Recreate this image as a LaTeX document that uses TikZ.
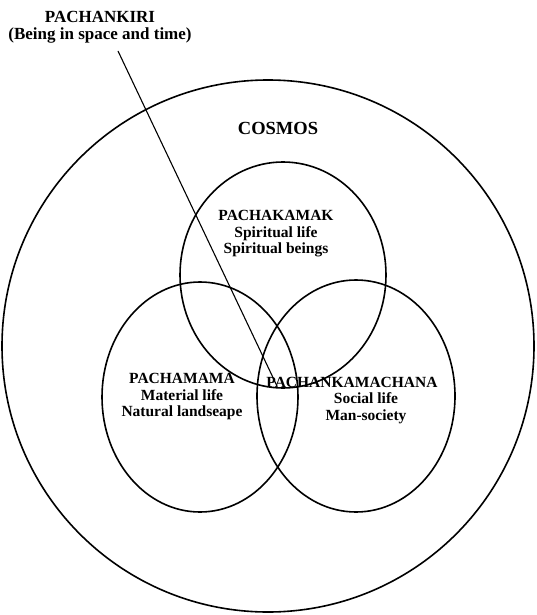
\documentclass[tikz,border=0pt]{standalone}
\usepackage{fontspec}
\setmainfont{Liberation Serif}
\begin{document}
\begin{tikzpicture}[x=1pt,y=-1pt,
  ring/.style={draw=black,line width=1.6pt},
  lbl/.style={font=\bfseries\fontsize{15.5}{16.5}\selectfont,align=center,inner sep=0pt},
  biglbl/.style={font=\bfseries\fontsize{17}{17}\selectfont,align=center,inner sep=0pt},
]
\useasboundingbox (0,0) rectangle (536,615);
\draw[ring] (268,346) circle[radius=266];
\draw[ring] (283,275) ellipse[x radius=103,y radius=113];
\draw[ring] (200,397) ellipse[x radius=98,y radius=115];
\draw[ring] (356,396) ellipse[x radius=99,y radius=116];
\node[biglbl] (kiri) at (100,27) {PACHANKIRI\\(Being in space and time)};
\coordinate (kiritop) at (118,51);
\coordinate (kiriend) at (277,386);
\draw[line width=1.1pt] (kiritop) -- (kiriend);
\node[font=\bfseries\fontsize{18.5}{18.5}\selectfont,inner sep=0pt] (cosmos) at (278,128) {COSMOS};
\node[lbl] (kamak) at (276,234) {PACHAKAMAK\\Spiritual life\\Spiritual beings};
\node[lbl] (mama) at (182,397) {PACHAMAMA\\Material life\\Natural landseape};
\node[lbl] (machanat) at (352,382) {PACHANKAMACHANA};
\node[lbl] (machana) at (366,408) {Social life\\Man-society};
\end{tikzpicture}
\end{document}
